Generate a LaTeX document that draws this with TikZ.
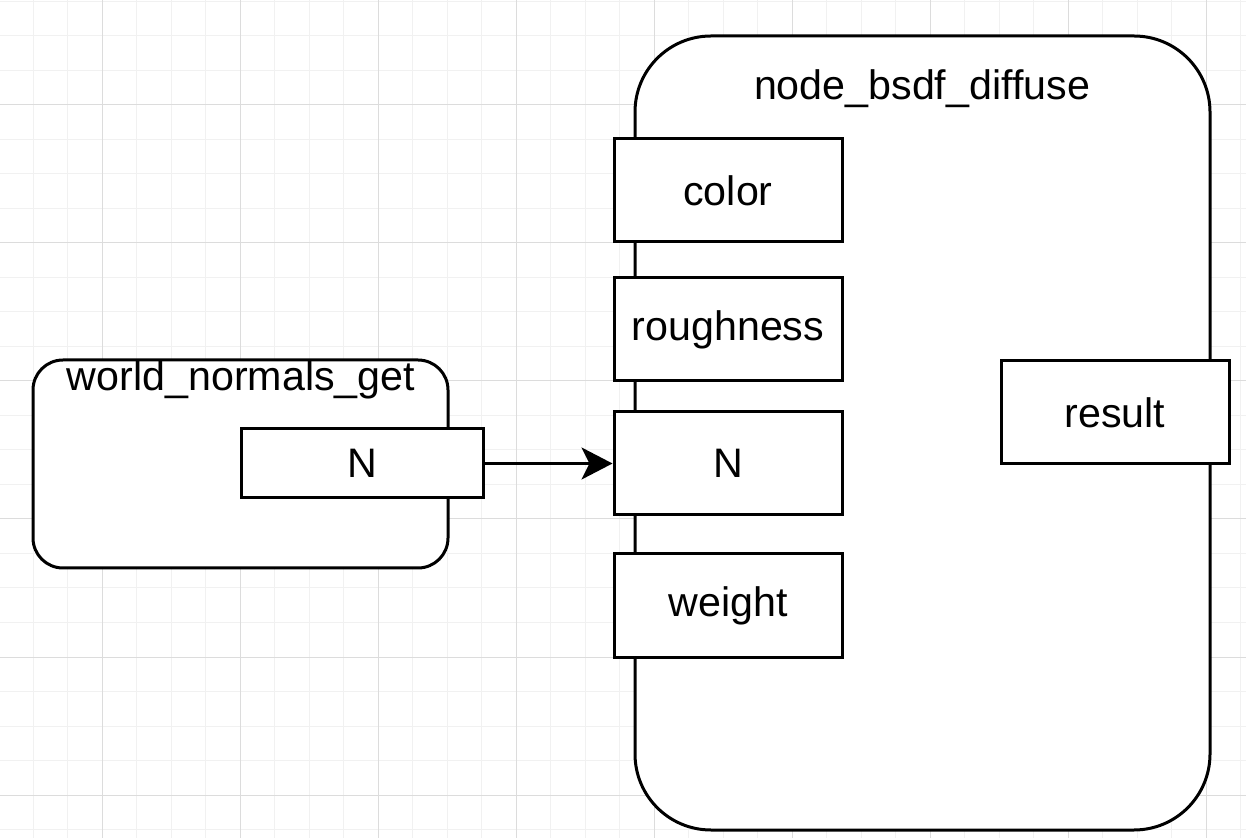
\documentclass[tikz,border=0pt]{standalone}
\usepackage{fontspec}
\setmainfont{Liberation Sans}
\usetikzlibrary{arrows.meta}
\definecolor{minorgrid}{HTML}{F1F1F1}
\definecolor{majorgrid}{HTML}{DCDCDC}
\tikzset{
  portbox/.style={draw=black, fill=white, line width=1.5pt, minimum width=114pt, minimum height=51.5pt, inner sep=0pt, font=\fontsize{20.6}{24}\selectfont},
  groupbox/.style={draw=black, fill=white, line width=1.5pt, inner sep=0pt},
  titletext/.style={font=\fontsize{20.6}{24}\selectfont, inner sep=0pt},
  link/.style={line width=1.5pt, -{Stealth[length=15.5pt,width=16pt,inset=4pt]}}
}
\begin{document}
\begin{tikzpicture}[x=0.5pt,y=-0.5pt]
\useasboundingbox (0,0) rectangle (1246,838);
\fill[white] (0,0) rectangle (1246,838);
% grid
\foreach \i in {0,...,37} {
  \draw[minorgrid, line width=0.5pt] ({-1.5+34.5*\i},0) -- ({-1.5+34.5*\i},838);
}
\foreach \i in {0,...,25} {
  \draw[minorgrid, line width=0.5pt] (0,{1.5+34.5*\i}) -- (1246,{1.5+34.5*\i});
}
\foreach \i in {0,...,8} {
  \draw[majorgrid, line width=0.5pt] ({102+138*\i},0) -- ({102+138*\i},838);
}
\foreach \i in {0,...,6} {
  \draw[majorgrid, line width=0.5pt] (0,{105+138*\i}) -- (1246,{105+138*\i});
}
% big node
\node[groupbox, rounded corners=38pt, minimum width=287.5pt, minimum height=397pt] (bsdf) at (922.5,433) {};
\node[titletext] (bsdftitle) at (922,89) {node\_bsdf\_diffuse};
\node[portbox] (color) at (728,190.5) {color};
\node[portbox] (rough) at (728,329.5) {roughness};
\node[portbox] (nin) at (728,463.5) {N};
\node[portbox] (weight) at (728,605.5) {weight};
\node[portbox] (result) at (1115,412.5) {result};
% small node
\node[groupbox, rounded corners=15pt, minimum width=207.5pt, minimum height=104pt] (world) at (240.5,464) {};
\node[titletext] (worldtitle) at (241,380) {world\_normals\_get};
\node[portbox, minimum width=121pt, minimum height=34.5pt] (nout) at (362,463.5) {N};
% connector
\draw[link] (nout.east) -- (nin.west);
\end{tikzpicture}
\end{document}
